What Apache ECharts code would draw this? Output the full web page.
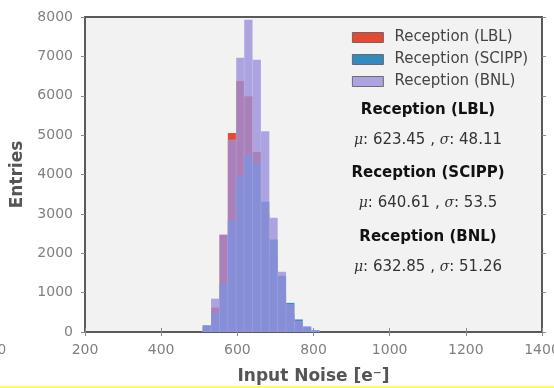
<!DOCTYPE html>
<html>
<head>
<meta charset="utf-8">
<script src="https://cdn.jsdelivr.net/npm/echarts@6/dist/echarts.min.js"></script>
<style>
  html, body { margin: 0; padding: 0; background: #fff; }
  #chart { width: 554px; height: 388px; }
</style>
</head>
<body>
<div id="chart"></div>
<script>
// bin edges of the histogram (input noise, e-)
const binEdges = [509, 531, 553, 575, 597, 618, 640, 662, 684, 706, 728, 750, 772, 794, 816]

// entries per bin
const lblCounts = [120, 620, 2470, 5054, 6375, 5986, 4572, 3000, 1900, 1000, 450, 180, 60, 20]
const scippCounts = [170, 467, 1220, 2830, 3937, 4487, 4275, 3310, 2350, 1430, 740, 320, 140, 45]
const bnlCounts = [170, 848, 2470, 4880, 6967, 7933, 6917, 5097, 2900, 1530, 700, 280, 130, 40]

const seriesNames = ['Reception (LBL)', 'Reception (SCIPP)', 'Reception (BNL)']
const seriesMu = ['623.45', '640.61', '632.85']
const seriesSigma = ['48.11', '53.5', '51.26']

const xTicks = { min: 200, max: 1400, interval: 200 }
const yTicks = { min: 0, max: 8000, interval: 1000 }

const chart = echarts.init(document.getElementById('chart'), null, { renderer: 'canvas' })

const toBins = counts => counts.map((c, i) => [binEdges[i], binEdges[i + 1], c])

const renderBin = (params, api) => {
  const lo = api.coord([api.value(0), 0])
  const hi = api.coord([api.value(1), api.value(2)])
  return {
    type: 'rect',
    shape: { x: lo[0], y: hi[1], width: hi[0] - lo[0], height: lo[1] - hi[1] },
    style: { fill: api.visual('color'), stroke: 'rgba(255,255,255,0.15)', lineWidth: 0.6 }
  }
}

const histSeries = (name, counts, color) => ({
  name,
  type: 'custom',
  renderItem: renderBin,
  clip: true,
  itemStyle: { color },
  encode: { x: [0, 1], y: 2 },
  data: toBins(counts)
})

const tickStyle = { show: true, length: 4, lineStyle: { color: '#8a8a8a', width: 1 } }
const plain = v => String(v)

const statText = []
const statY = [110, 173, 237]
seriesNames.forEach((name, i) => {
  statText.push({
    type: 'text', x: 428, y: statY[i],
    style: {
      text: name, align: 'center', verticalAlign: 'middle',
      fontFamily: 'DejaVu Sans', fontWeight: 'bold', fontSize: 15, fill: '#111'
    }
  })
  statText.push({
    type: 'text', x: 428, y: statY[i] + 30,
    style: {
      text: '{m|μ}: ' + seriesMu[i] + ' , {m|σ}: ' + seriesSigma[i],
      align: 'center', verticalAlign: 'middle',
      fontFamily: 'DejaVu Sans', fontSize: 15, fill: '#333',
      rich: { m: { fontFamily: 'DejaVu Serif', fontStyle: 'italic', fontSize: 14, fill: '#333' } }
    }
  })
})

const option = {
  animation: false,
  backgroundColor: '#fff',
  textStyle: { fontFamily: 'DejaVu Sans' },
  grid: {
    left: 85, right: 12, top: 17, bottom: 56,
    outerBoundsMode: 'none', containLabel: false,
    show: true, backgroundColor: '#f2f2f2', borderColor: '#5a5a5a', borderWidth: 2
  },
  legend: {
    orient: 'vertical', left: 347, top: 25,
    itemWidth: 31, itemHeight: 10, itemGap: 7,
    icon: 'rect',
    itemStyle: { borderColor: '#555', borderWidth: 0.8 },
    textStyle: { fontSize: 15, color: '#444', lineHeight: 14, padding: [0, 0, 0, 6] },
    data: seriesNames
  },
  xAxis: [
    {
      type: 'value', ...xTicks,
      name: 'Input Noise [e⁻]', nameLocation: 'middle', nameGap: 36,
      nameTextStyle: { fontSize: 17, fontWeight: 'bold', color: '#555' },
      axisLine: { show: false }, axisTick: tickStyle, splitLine: { show: false },
      axisLabel: {
        fontSize: 14, color: '#808080', margin: 11, formatter: plain,
        alignMinLabel: 'center', alignMaxLabel: 'center', hideOverlap: false
      }
    },
    {
      type: 'value', position: 'top', ...xTicks,
      axisLine: { show: false }, axisTick: tickStyle, splitLine: { show: false },
      axisLabel: { show: false }
    }
  ],
  yAxis: [
    {
      type: 'value', ...yTicks,
      name: 'Entries', nameLocation: 'middle', nameGap: 58,
      nameTextStyle: { fontSize: 17, fontWeight: 'bold', color: '#555' },
      axisLine: { show: false }, axisTick: tickStyle, splitLine: { show: false },
      axisLabel: { fontSize: 14, color: '#808080', margin: 12, formatter: plain }
    },
    {
      type: 'value', position: 'right', ...yTicks,
      axisLine: { show: false }, axisTick: tickStyle, splitLine: { show: false },
      axisLabel: { show: false }
    }
  ],
  series: [
    histSeries(seriesNames[0], lblCounts, '#E24A33'),
    histSeries(seriesNames[1], scippCounts, '#348ABD'),
    histSeries(seriesNames[2], bnlCounts, 'rgba(154,142,220,0.8)')
  ],
  graphic: [
    ...statText,
    // cut-off tick label from the neighbouring panel
    { type: 'text', x: 2, y: 350, style: { text: '0', align: 'center', verticalAlign: 'middle', fontSize: 14, fill: '#808080' } },
    { type: 'rect', shape: { x: 0, y: 386, width: 554, height: 2 }, style: { fill: '#ffff55' } }
  ]
}

chart.setOption(option)
</script>
</body>
</html>
